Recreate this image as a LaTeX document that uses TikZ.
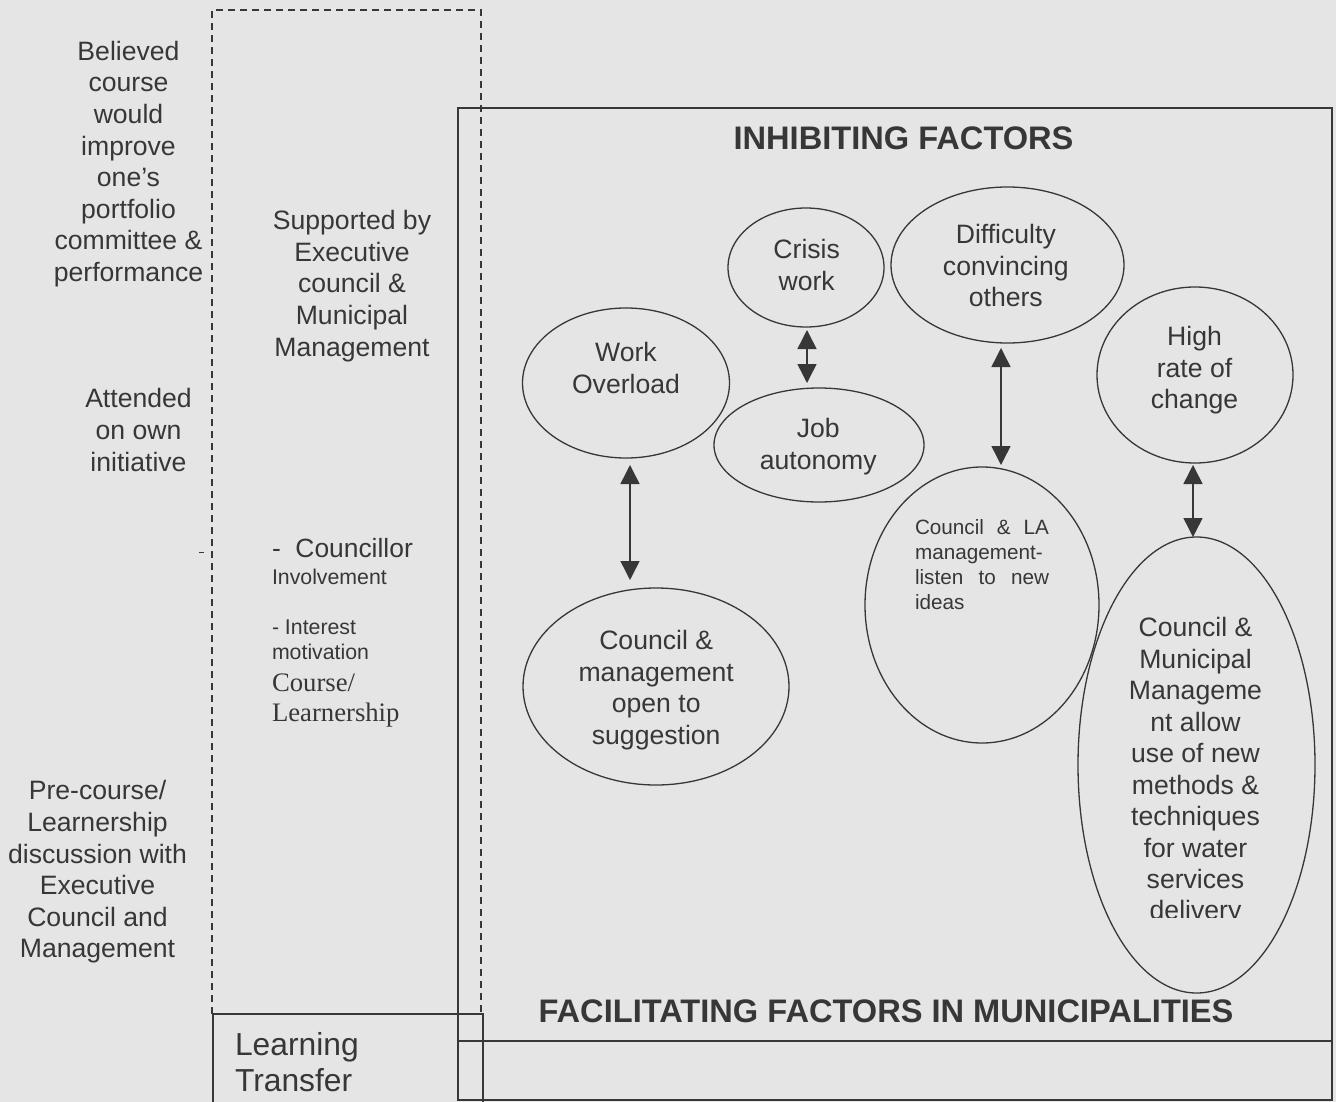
\documentclass[tikz,border=0pt]{standalone}
\usepackage{fontspec}
\setmainfont{Liberation Sans}
\newfontfamily\romanface{Liberation Serif}
\usetikzlibrary{arrows.meta,shapes.geometric}
\definecolor{paper}{RGB}{229,229,229}
\definecolor{ink}{RGB}{55,55,55}
\newcommand{\spreadline}[1]{\leavevmode\hbox to 134pt{#1}}

\begin{document}
\begin{tikzpicture}[x=1pt,y=-1pt,
  every node/.style={inner sep=0pt, outer sep=0pt, text=ink},
  body/.style={font=\fontsize{26.6}{31.6}\selectfont, align=center},
  small/.style={font=\fontsize{21.3}{25}\selectfont},
  heading/.style={font=\bfseries\fontsize{32.6}{36}\selectfont},
  oval/.style n args={2}{draw=ink, line width=1.3pt, ellipse,
    minimum width=#1pt, minimum height=#2pt},
  frame/.style={draw=ink, line width=1.7pt},
  dbl/.style={draw=ink, line width=1.5pt,
    arrows={Triangle[width=19pt,length=19pt]-Triangle[width=19pt,length=19pt]}}]

% paper and page size
\fill[paper] (0,0) rectangle (1336,1102);
\useasboundingbox (0,0) rectangle (1336,1102);

% frames
\draw[frame] (458,108) rectangle (1332,1100);
\draw[frame] (458,1041) -- (1332,1041);
\draw[frame] (213,1106) -- (213,1014) -- (483,1014) -- (483,1106);
\draw[ink, line width=1.3pt, dash pattern=on 7pt off 5pt]
  (212,1014) -- (212,10) -- (481,10) -- (481,1014);
\draw[ink, line width=1pt] (199,552) -- (204,552);

% left column
\node[body] (believed) at (128.5,164)
  {Believed\\course\\would\\improve\\one’s\\portfolio\\committee \&\\performance};
\node[body] (attended) at (138.5,430) {Attended\\on own\\initiative};
\node[body] (precourse) at (97.5,872)
  {Pre-course/\\Learnership\\discussion with\\Executive\\Council and\\Management};

% middle column
\node[body] (supported) at (352,286)
  {Supported by\\Executive\\council \&\\Municipal\\Management};
\node[anchor=base west, font=\fontsize{26.4}{30}\selectfont] (c1) at (272,557) {-\ \ Councillor};
\node[anchor=base west, small] (c2) at (272,584) {Involvement};
\node[anchor=base west, small] (c3) at (272,634) {- Interest};
\node[anchor=base west, small] (c4) at (272,659) {motivation};
\node[anchor=base west, font=\romanface\fontsize{26.7}{30}\selectfont] (c5) at (272,691) {Course/};
\node[anchor=base west, font=\romanface\fontsize{26.7}{30}\selectfont] (c6) at (272,721) {Learnership};

\node[anchor=west, align=left, font=\fontsize{31.8}{36.7}\selectfont] (learning) at (235,1062)
  {Learning\\Transfer};

% headings
\node[heading] (inhibit) at (903.5,138) {INHIBITING FACTORS};
\node[heading] (facil) at (886,1011.5) {FACILITATING FACTORS IN MUNICIPALITIES};

% factor ellipses
\node[oval={207}{150}] (wo) at (626,383) {};
\node[oval={156}{119}] (cw) at (806,267.5) {};
\node[oval={233}{156}] (dc) at (1007.5,265) {};
\node[oval={210}{114}] (ja) at (819,445) {};
\node[oval={196}{176}] (hr) at (1195,375) {};
\node[oval={266}{197}] (os) at (656,686.5) {};
\node[oval={234}{276}] (la) at (982,605) {};
\node[oval={237}{456}] (mm) at (1196.5,765) {};

% ellipse texts
\node[body] (wo-t) at (626,368) {Work\\Overload};
\node[body] (cw-t) at (806.7,264.7) {Crisis\\work};
\node[body] (dc-t) at (1005.8,265.5) {Difficulty\\convincing\\others};
\node[body] (ja-t) at (818.3,446.5) {Job\\autonomy};
\node[body] (hr-t) at (1194.5,370.4) {High\\rate of\\change};
\node[body] (os-t) at (656.2,690.3) {Council \&\\management\\open to\\suggestion};
\node[align=left, text width=134pt, font=\fontsize{20.7}{24.8}\selectfont] (la-t) at (982,564.7)
  {\spreadline{Council\hfill\&\hfill LA}\\management-\\\spreadline{listen\hfill to\hfill new}\\ideas};
\begin{scope}
  \clip (1060,520) rectangle (1330,917.5);
  \node[body, font=\fontsize{26.6}{31.45}\selectfont] (mm-t) at (1195.5,771.5)
    {Council \&\\Municipal\\Manageme\\nt allow\\use of new\\methods \&\\techniques\\for water\\services\\delivery};
\end{scope}

% links
\coordinate (ax1) at (630,0);
\coordinate (ax2) at (807,0);
\coordinate (ax3) at (1001,0);
\coordinate (ax4) at (1193,0);
\draw[dbl, shorten <=7pt, shorten >=8pt] (wo.south -| ax1) -- (os.north -| ax1);
\draw[dbl, shorten <=3pt, shorten >=5pt] (cw.south -| ax2) -- (ja.north -| ax2);
\draw[dbl, shorten <=5pt, shorten >=2pt] (dc.south -| ax3) -- (la.north -| ax3);
\draw[dbl, shorten <=2pt, shorten >=0pt] (hr.south -| ax4) -- (mm.north -| ax4);

\end{tikzpicture}
\end{document}
